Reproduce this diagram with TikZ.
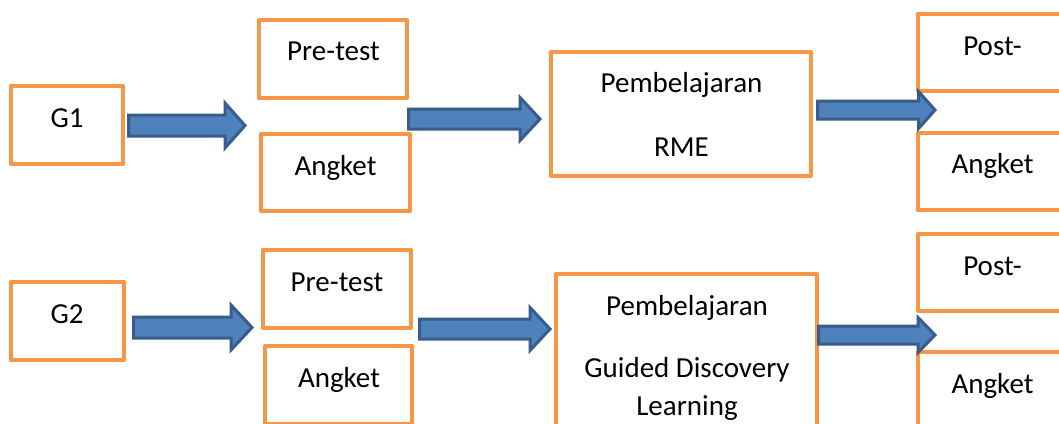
\documentclass[tikz,border=0pt]{standalone}
\usepackage{fontspec}
\setmainfont{Carlito}
\definecolor{boxor}{HTML}{F79646}
\definecolor{arrfill}{HTML}{4F81BD}
\definecolor{arrline}{HTML}{385D8A}
\newcommand\blockarr[6]{% x1, x2(tip), yc, shaft half, head half, head base x
  \draw[arr] (#1,#3-#4) -- (#6,#3-#4) -- (#6,#3-#5) -- (#2,#3) -- (#6,#3+#5) -- (#6,#3+#4) -- (#1,#3+#4) -- cycle;}
\begin{document}
\begin{tikzpicture}[x=1pt,y=-1pt,
  box/.style={draw=boxor, line width=4pt, line join=round, fill=white, inner sep=0pt},
  lbl/.style={font=\fontsize{29}{35}\selectfont, anchor=base, inner sep=0pt},
  arr/.style={draw=arrline, fill=arrfill, line width=3pt, line join=miter}]
\useasboundingbox (0,0) rectangle (1059,423);
\fill[white] (0,0) rectangle (1059,423);
\clip (0,0) rectangle (1059,423);
% row 1 boxes
\node[box, minimum width=112pt, minimum height=78pt] (g1) at (67,125) {};
\node[box, minimum width=148pt, minimum height=78pt] (pre1) at (333,59) {};
\node[box, minimum width=149pt, minimum height=77pt] (ang1) at (335.5,172.5) {};
\node[box, minimum width=260pt, minimum height=124pt] (rme) at (681,114) {};
\node[box, minimum width=150pt, minimum height=77pt] (post1) at (993,52.5) {};
\node[box, minimum width=150pt, minimum height=77pt] (angr1) at (993,171.5) {};
% row 2 boxes
\node[box, minimum width=113pt, minimum height=78pt] (g2) at (67.5,321) {};
\node[box, minimum width=148pt, minimum height=78pt] (pre2) at (337,289) {};
\node[box, minimum width=147pt, minimum height=78pt] (ang2) at (338.5,385) {};
\node[box, minimum width=261pt, minimum height=166pt] (gdl) at (686.5,357) {};
\node[box, minimum width=150pt, minimum height=77pt] (post2) at (993,272.5) {};
\node[box, minimum width=150pt, minimum height=78pt] (angr2) at (993,391) {};
% labels
\node[lbl] (t-g1) at (67,127) {G1};
\node[lbl] (t-pre1) at (333.5,60) {Pre-test};
\node[lbl] (t-ang1) at (335.5,175) {Angket};
\node[lbl] (t-rme1) at (681.5,92) {Pembelajaran};
\node[lbl] (t-rme2) at (681.5,156) {RME};
\node[lbl] (t-post1) at (992.5,55) {Post-};
\node[lbl] (t-angr1) at (992.5,173) {Angket};
\node[lbl] (t-g2) at (67,323) {G2};
\node[lbl] (t-pre2) at (337,291) {Pre-test};
\node[lbl] (t-ang2) at (339,387) {Angket};
\node[lbl] (t-gdl1) at (687,315) {Pembelajaran};
\node[lbl] (t-gdl2) at (687,377) {Guided Discovery};
\node[lbl] (t-gdl3) at (687,415) {Learning};
\node[lbl] (t-post2) at (992.5,275) {Post-};
\node[lbl] (t-angr2) at (992.5,393) {Angket};
% arrows
\blockarr{128.5}{245}{125.5}{10.5}{22.5}{225}
\blockarr{408.5}{540}{119}{10}{21.5}{520}
\blockarr{817.5}{935}{110}{9}{18.5}{918.5}
\blockarr{133.5}{252}{327.5}{10.5}{22.5}{231}
\blockarr{419.5}{550}{329}{10}{21.5}{530}
\blockarr{818.5}{935}{335}{9}{17.5}{918}
\end{tikzpicture}
\end{document}
